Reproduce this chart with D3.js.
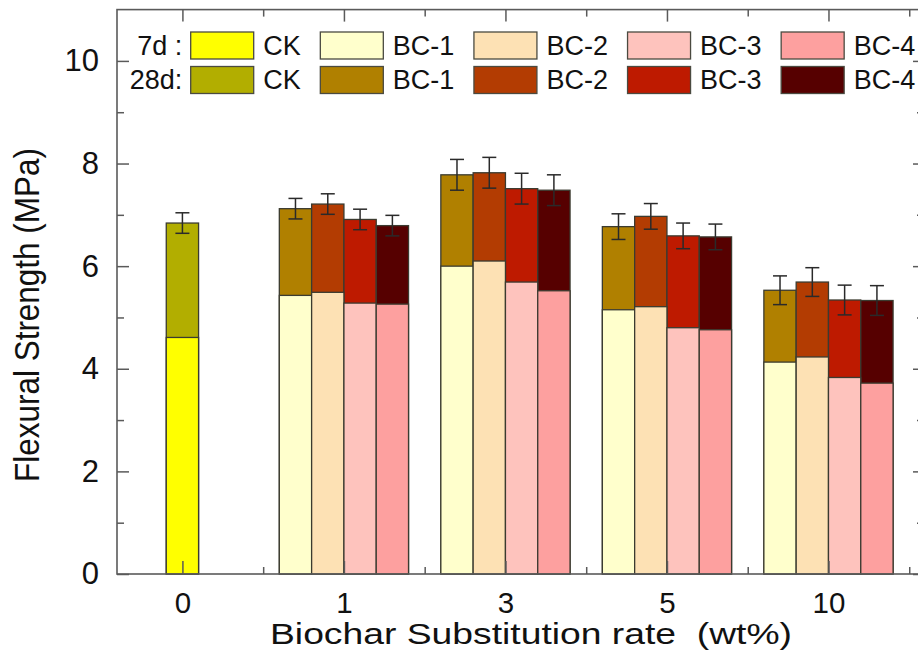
<!DOCTYPE html>
<html>
<head>
<meta charset="utf-8">
<script src="https://cdn.jsdelivr.net/npm/d3@7/dist/d3.min.js"></script>
<style>
  html, body { margin: 0; padding: 0; background: #ffffff; }
  svg { display: block; font-family: "Liberation Sans", Arial, Helvetica, sans-serif; }
</style>
</head>
<body>
<script>
// Substitution rates (x categories) and mix names
const rateLabels = ["0", "1", "3", "5", "10"];
const mixNames = ["CK", "BC-1", "BC-2", "BC-3", "BC-4"];

// Control mix (CK) at 0 wt%: 7-day, 28-day strength and 28-day error
const ck7d = [4.61];
const ck28d = [6.84];
const ckErr = [0.20];

// Biochar mixes at 1, 3, 5, 10 wt% (MPa)
const bc1_7d  = [5.43, 6.00, 5.15, 4.13];
const bc2_7d  = [5.49, 6.10, 5.21, 4.23];
const bc3_7d  = [5.28, 5.69, 4.80, 3.83];
const bc4_7d  = [5.26, 5.52, 4.76, 3.72];

const bc1_28d = [7.12, 7.78, 6.77, 5.53];
const bc2_28d = [7.21, 7.82, 6.97, 5.69];
const bc3_28d = [6.91, 7.51, 6.59, 5.34];
const bc4_28d = [6.79, 7.48, 6.57, 5.33];

const bc1_err = [0.20, 0.30, 0.25, 0.28];
const bc2_err = [0.20, 0.30, 0.25, 0.28];
const bc3_err = [0.20, 0.30, 0.25, 0.29];
const bc4_err = [0.20, 0.30, 0.25, 0.29];

// Y ticks
const yMajorTicks = [0, 2, 4, 6, 8, 10];
const yMinorTicks = [1, 3, 5, 7, 9];

// Fill colours per mix: 7-day (light) and 28-day (dark)
const colors7d  = ["#ffff00", "#ffffcc", "#fde1b4", "#fec3bd", "#fda09f"];
const colors28d = ["#b2ae00", "#b08000", "#b33c02", "#be1a00", "#560000"];

const W = 918, H = 656;
const plot = { left: 117, right: 927, top: 9.6, bottom: 574 };

const svg = d3.select("body").append("svg")
  .attr("width", W).attr("height", H);

// x works on a category index: 0..4, with each bar 0.2 index units wide
const x = d3.scaleLinear().domain([-0.405, 4.61]).range([plot.left, plot.right]);
const y = d3.scaleLinear().domain([0, 11]).range([plot.bottom, plot.top]);
const barUnits = 0.2;
const barW = x(barUnits) - x(0);

// Assemble bar records
const bc7 = [bc1_7d, bc2_7d, bc3_7d, bc4_7d];
const bc28 = [bc1_28d, bc2_28d, bc3_28d, bc4_28d];
const bcErr = [bc1_err, bc2_err, bc3_err, bc4_err];

const bars = [{ pos: 0, v7: ck7d[0], v28: ck28d[0], err: ckErr[0], k: 0 }];
for (let j = 0; j < 4; j++) {
  for (let i = 0; i < 4; i++) {
    bars.push({
      pos: (i + 1) + (j - 1.5) * barUnits,
      v7: bc7[j][i], v28: bc28[j][i], err: bcErr[j][i], k: j + 1
    });
  }
}

const stroke = "#3b3b30";
const gBars = svg.append("g");

// 28-day bars (full height), then 7-day bars drawn over them
gBars.selectAll("rect.d28").data(bars).join("rect")
  .attr("class", "d28")
  .attr("x", d => x(d.pos) - barW / 2)
  .attr("y", d => y(d.v28))
  .attr("width", barW)
  .attr("height", d => y(0) - y(d.v28))
  .attr("fill", d => colors28d[d.k])
  .attr("stroke", stroke).attr("stroke-width", 1.3);

gBars.selectAll("rect.d7").data(bars).join("rect")
  .attr("class", "d7")
  .attr("x", d => x(d.pos) - barW / 2)
  .attr("y", d => y(d.v7))
  .attr("width", barW)
  .attr("height", d => y(0) - y(d.v7))
  .attr("fill", d => colors7d[d.k])
  .attr("stroke", stroke).attr("stroke-width", 1.3);

// Error bars on the 28-day values
const capW = 14;
const gErr = svg.append("g").attr("stroke", "#2a2a2a").attr("stroke-width", 1.5);
gErr.selectAll("line.v").data(bars).join("line")
  .attr("x1", d => x(d.pos)).attr("x2", d => x(d.pos))
  .attr("y1", d => y(d.v28 - d.err)).attr("y2", d => y(d.v28 + d.err));
gErr.selectAll("line.t").data(bars).join("line")
  .attr("x1", d => x(d.pos) - capW / 2).attr("x2", d => x(d.pos) + capW / 2)
  .attr("y1", d => y(d.v28 + d.err)).attr("y2", d => y(d.v28 + d.err));
gErr.selectAll("line.b").data(bars).join("line")
  .attr("x1", d => x(d.pos) - capW / 2).attr("x2", d => x(d.pos) + capW / 2)
  .attr("y1", d => y(d.v28 - d.err)).attr("y2", d => y(d.v28 - d.err));

// Frame
svg.append("rect")
  .attr("x", plot.left).attr("y", plot.top)
  .attr("width", plot.right - plot.left).attr("height", plot.bottom - plot.top)
  .attr("fill", "none").attr("stroke", "#5a5a5a").attr("stroke-width", 1.6);

const axisColor = "#5a5a5a";
function styleAxis(g, fontSize) {
  g.select(".domain").remove();
  g.selectAll(".tick line").attr("stroke", axisColor).attr("stroke-width", 1.5);
  g.selectAll(".tick text").attr("fill", "#111").attr("font-size", fontSize);
}

const majorIdx = [0, 1, 2, 3, 4];
const minorIdx = [0.5, 1.5, 2.5, 3.5, 4.5];

// Bottom axis (ticks point inward)
svg.append("g").attr("transform", `translate(0,${plot.bottom})`)
  .call(d3.axisBottom(x).tickValues(majorIdx).tickFormat(i => rateLabels[i])
    .tickSizeInner(-13).tickSizeOuter(0).tickPadding(18))
  .call(g => styleAxis(g, 29.5));
svg.append("g").attr("transform", `translate(0,${plot.bottom})`)
  .call(d3.axisBottom(x).tickValues(minorIdx).tickFormat("").tickSizeInner(-7).tickSizeOuter(0))
  .call(g => styleAxis(g, 30));

// Top axis
svg.append("g").attr("transform", `translate(0,${plot.top})`)
  .call(d3.axisTop(x).tickValues(majorIdx).tickFormat("").tickSizeInner(-12).tickSizeOuter(0))
  .call(g => styleAxis(g, 30));
svg.append("g").attr("transform", `translate(0,${plot.top})`)
  .call(d3.axisTop(x).tickValues(minorIdx).tickFormat("").tickSizeInner(-7).tickSizeOuter(0))
  .call(g => styleAxis(g, 30));

// Left axis
svg.append("g").attr("transform", `translate(${plot.left},0)`)
  .call(d3.axisLeft(y).tickValues(yMajorTicks).tickFormat(d3.format("d"))
    .tickSizeInner(-12).tickSizeOuter(0).tickPadding(18))
  .call(g => styleAxis(g, 31));
svg.append("g").attr("transform", `translate(${plot.left},0)`)
  .call(d3.axisLeft(y).tickValues(yMinorTicks).tickFormat("").tickSizeInner(-7).tickSizeOuter(0))
  .call(g => styleAxis(g, 31));

// Right axis
svg.append("g").attr("transform", `translate(${plot.right},0)`)
  .call(d3.axisRight(y).tickValues(yMajorTicks).tickFormat("").tickSizeInner(-14).tickSizeOuter(0))
  .call(g => styleAxis(g, 31));
svg.append("g").attr("transform", `translate(${plot.right},0)`)
  .call(d3.axisRight(y).tickValues(yMinorTicks).tickFormat("").tickSizeInner(-10).tickSizeOuter(0))
  .call(g => styleAxis(g, 31));

// Axis titles
svg.append("text")
  .attr("x", 531).attr("y", 644)
  .attr("text-anchor", "middle")
  .attr("font-size", 30).attr("fill", "#111")
  .style("white-space", "pre")
  .attr("textLength", 522).attr("lengthAdjust", "spacingAndGlyphs")
  .text("Biochar Substitution rate  (wt%)");

svg.append("text")
  .attr("transform", "translate(39,315) scale(1.12,1) rotate(-90)")
  .attr("text-anchor", "middle")
  .attr("font-size", 31).attr("fill", "#111")
  .attr("textLength", 334).attr("lengthAdjust", "spacingAndGlyphs")
  .text("Flexural Strength (MPa)");

// Legend: two rows (7 d and 28 d), items laid out left to right
const legend = svg.append("g");
const legendRows = [
  { label: "7d :", fills: colors7d, cy: 45.5 },
  { label: "28d:", fills: colors28d, cy: 80 }
];
const swW = 63, swH = 27, textGap = 9.5, itemGap = 19.6, legendStart = 190.7;
const legendFont = 27;

// Measure item label widths to place the columns
const probe = legend.append("text").attr("font-size", legendFont);
const colX = [];
let cx = legendStart;
mixNames.forEach(name => {
  colX.push(cx);
  probe.text(name);
  cx += swW + textGap + probe.node().getComputedTextLength() + itemGap;
});
probe.remove();

legendRows.forEach(row => {
  legend.append("text")
    .attr("x", legendStart - 8.5).attr("y", row.cy)
    .attr("dy", "0.35em")
    .attr("text-anchor", "end")
    .attr("font-size", legendFont).attr("fill", "#111")
    .text(row.label);
  mixNames.forEach((name, k) => {
    legend.append("rect")
      .attr("x", colX[k]).attr("y", row.cy - swH / 2)
      .attr("width", swW).attr("height", swH)
      .attr("fill", row.fills[k])
      .attr("stroke", "#4a4a40").attr("stroke-width", 1.3);
    legend.append("text")
      .attr("x", colX[k] + swW + textGap).attr("y", row.cy)
      .attr("dy", "0.35em")
      .attr("font-size", legendFont).attr("fill", "#111")
      .text(name);
  });
});
</script>
</body>
</html>
